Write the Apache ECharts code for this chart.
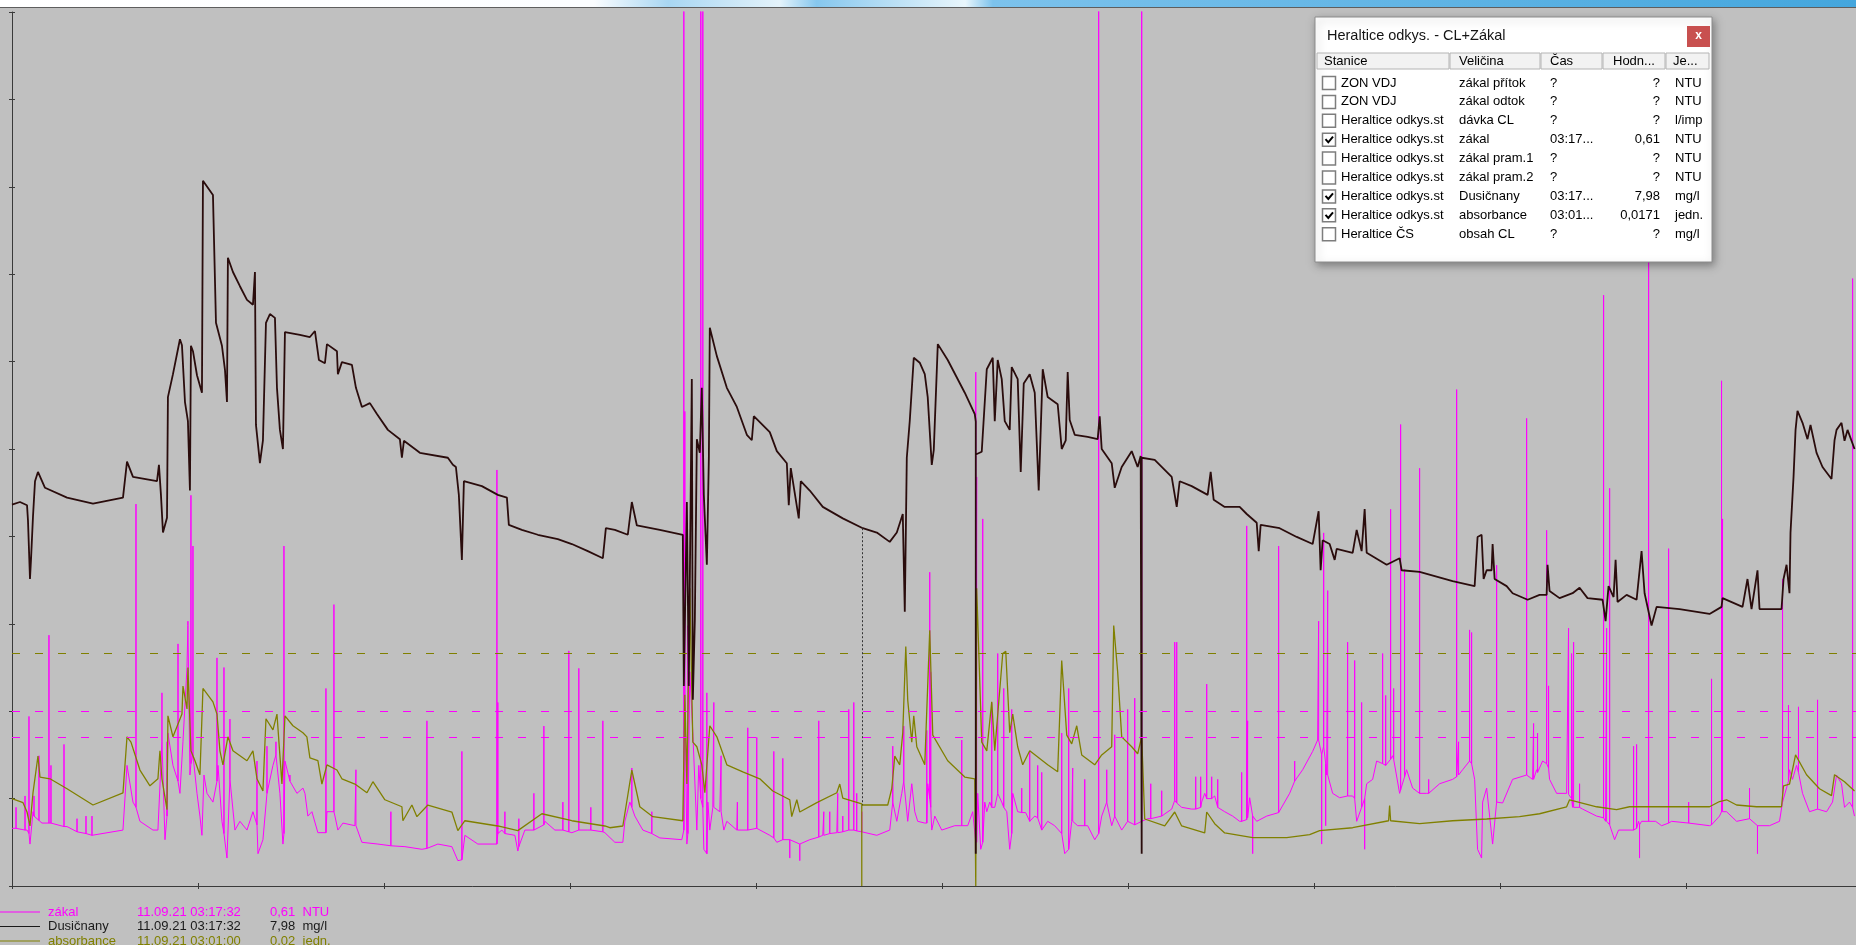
<!DOCTYPE html>
<html><head><meta charset="utf-8">
<script src="https://cdn.jsdelivr.net/npm/echarts/dist/echarts.min.js"></script>
<style>html,body{margin:0;padding:0;background:#c0c0c0;overflow:hidden}#c{width:1856px;height:945px}</style>
</head><body><div id="c"></div><script>
// time in hours from left edge, tick = 24 h
// zákal [NTU]: [h, value] or [h, base, spike]
const zakalData = [[0,0.66],[0.52,0.66,0.90],[1.68,0.64,1.03],[1.94,0.64],[2.19,0.6,1.94],[2.32,0.48],[2.71,0.85],[2.84,0.80,1.03],[3.48,0.75,1.49],[3.87,0.72],[4.77,0.72,2.87],[5.03,0.72,1.38],[6.71,0.68,1.62],[7.10,0.68],[8.39,0.62,0.77],[9.55,0.6,0.80],[10.32,0.58,0.80],[10.45,0.58],[14.32,0.64],[14.84,1.38],[15.61,0.96],[16.0,0.9,4.37],[16.51,0.74],[18.19,0.64],[18.83,0.64],[19.35,1.65,2.21],[19.74,0.53],[20.0,0.8,1.65],[20.12,1.75],[20.77,1.38],[21.42,1.2,2.77],[21.67,1.06],[22.06,1.65],[22.58,2.50],[22.70,2.98,3.03],[22.96,1.27],[23.09,1.4,4.47],[23.35,1.5,3.89],[23.87,1.06],[24.25,0.80],[24.51,0.58],[24.77,1.27],[25.16,1.06],[25.93,0.96],[26.45,1.2,2.61],[26.58,1.38],[27.09,0.74],[27.35,0.6,2.50],[27.74,0.32],[28.12,1.22,1.91],[28.77,0.64],[29.41,0.74],[30.32,0.64],[31.09,0.85],[31.61,0.7,1.43],[31.74,0.37],[32.38,0.53],[32.9,1.06,1.60],[33.67,1.38],[34.06,1.5,1.65],[34.57,1.06],[34.96,0.48],[35.09,0.6,3.89],[35.22,1.43],[35.86,1.2,1.27],[36.77,1.06],[37.54,1.12],[37.80,1.06],[38.18,0.80],
[38.7,0.85],[39.47,0.61],[40.51,0.61,2.26],[40.64,0.85],[41.54,0.85,3.22],[41.67,0.80],[42.05,0.64],[42.7,0.72],[44.25,0.69],[44.38,0.69,1.33],[45.15,0.50],[47.21,0.48],[48.89,0.46,0.85],[49.02,0.45],[50.70,0.45],[52.89,0.42],[53.54,0.43,1.89],[54.95,0.48],[56.76,0.45],[57.53,0.29],[58.05,0.30,1.54],[58.44,0.58],[60.11,0.48],[62.57,0.48,4.76],[62.69,0.6,2.10],[63.21,0.64],[63.6,0.6,0.85],[64.89,0.58],[65.27,0.40],[65.4,0.45,0.77],[66.18,0.64],[67.34,0.64,1.06],[68.63,0.70,1.83],[68.76,0.74],[70.05,0.64],[71.08,0.64,0.96],[71.85,0.62,2.69],[72.24,0.61],[73.14,0.64,2.49],[74.30,0.64],[74.69,0.64,0.90],[76.24,0.62,1.89],[76.50,0.61],
[77.79,0.50],[78.82,0.50],[79.08,0.74],[79.72,0.96],[79.98,0.9,1.35],[80.37,0.80],[81.40,0.64],[82.56,0.6,0.85],[83.59,0.55],[86.43,0.53],[86.69,0.64,12],[86.82,2.29,5.43],[87.08,0.48],[87.21,0.6,2.98],[87.46,2.45],[87.85,1.75],[88.37,0.64],[88.62,1.38],[88.88,1.0,12],[89.14,0.9,12],[89.27,0.42],[89.66,0.37,2.21],[89.79,0.96],[90.04,0.64],[90.43,0.90],[90.56,0.90,2.10],[91.33,0.85],[91.5,0.85,1.49],[91.85,0.64],[92.24,0.74],[93.53,0.64],[93.6,0.64,0.96],[94.94,0.64,1.81],[96.1,0.66,1.70],[97.78,0.58],[98.30,0.55,1.54],[98.69,0.50],[99.46,0.53,1.46],[100.36,0.53,0.32],[101.65,0.48,0.29],[102.94,0.53],[104.10,0.56,1.89],[104.62,0.58],[104.75,0.58,0.85],[105.52,0.6,0.85],[106.43,0.61],[106.55,0.61,1.06],[107.2,0.62,0.80],[107.97,0.64,2.02],[108.10,0.64],[108.62,0.64,2.10],[109.0,0.63,1.06],[109.65,0.62,0.85],[109.78,0.62],[111.59,0.58],[113.26,0.64],[113.65,0.96,1.60],[114.17,0.74],[114.81,1.06],[115.07,1.2,1.83],[115.58,0.74],[116.10,1.17],[116.49,0.85],
[116.87,0.74],[117.78,0.72],[118.04,0.72,1.78],[118.16,1.17],[118.42,1.0,3.59],[118.55,0.9,2.45],[118.68,0.64],[119.07,0.80],[119.97,0.64],[121.65,0.69],[122.55,0.69,1.67],[123.32,0.69],[123.97,0.85],[124.36,0.5,5.88],[124.48,0.5,4.68],[124.61,1.06],[125.0,0.42],[125.26,0.5,4.20],[125.52,0.96],[125.78,0.85],[126.16,0.96],[126.42,0.9,2.10],[126.81,0.90],[127.19,1.06,2.66],[127.71,0.96],[127.97,0.9,2.26],[128.36,0.85],[128.74,0.42],[129.0,0.6,2.02],[129.13,1.06],[129.77,0.85],[130.29,0.84,1.12],[130.8,0.84],[131.32,0.74,1.54],[131.97,0.80],[132.35,0.78,1.38],[132.87,0.64,1.30],[133.64,0.74],[134.54,0.69],[135.45,0.6,1.75],[135.84,0.37],[136.35,0.42,2.26],[136.74,0.74],[136.87,0.74,1.35],[137.51,0.69],[138.42,0.69,1.22],[138.80,0.69],[139.71,0.53],[140.22,0.6,12],[140.61,0.80],[141.26,0.96,1.33],[141.90,0.69],[142.29,0.8,1.73],[143.19,0.64],[143.96,0.74,2.02],[144.87,0.7,2.15],[145.77,0.74,12],[146.55,0.77],[146.94,0.77,1.17],[148.35,0.80,1.09],[149.64,0.88],[150.03,0.98,2.79],[150.29,0.95,2.79],[150.93,0.90],[152.22,0.88],[152.74,0.88,1.25],[153.38,0.9,1.25],[153.51,0.96],[153.90,1.06],[154.16,1.0,2.31],[154.8,1.0,1.25],[155.19,1.03],[155.58,0.9,1.22],[156.48,0.85],
[157.51,0.80],[158.41,0.74],[158.67,0.74,1.30],[159.32,0.76,4.12],[159.44,0.78,1.89],[159.70,1.01],[160.09,0.8,0.37],[160.61,0.74],[161.90,0.80],[163.44,0.84,3.89],[163.57,0.85],[164.86,1.06],[165.51,1.2,1.43],[166.54,1.33],[167.83,1.54],[168.47,1.67],[168.60,1.67,3.03],[168.99,1.5,0.48],[169.25,1.6,4.04],[169.51,1.4,0.69],[169.64,1.27],[169.77,1.27,3.38],[170.41,1.06],[171.31,1.01],[172.34,1.03,2.79],[172.99,1.03],[173.25,1.0,2.58],[173.51,0.74],[174.15,0.9,2.10],[174.54,1.0,0.42],[174.80,1.17],[175.57,1.22],[176.09,1.43],[176.86,1.40,2.66],[177.25,1.38,2.18],[177.38,1.38],[177.89,1.45,4.31],[178.15,1.49],[178.28,1.45,2.26],[179.05,1.06],[179.18,1.1,5.28],[179.69,1.25,3.62],[179.95,1.33],[180.73,1.12],[181.63,1.06,4.78],[182.54,1.06],[182.8,1.06,1.22],[184.21,1.17],[185.89,1.22],[186.41,1.25,5.68],[186.66,1.27,1.65],[187.18,1.33],[188.08,1.43,2.93],[188.34,1.4,2.90],[188.73,1.22],[189.11,0.42],[189.63,0.32],[189.76,0.96],[190.28,1.12],[191.05,0.48],[191.57,0.96,3.67],[192.34,0.95],[193.63,1.22],[195.44,1.27,5.35],[196.21,1.22],[196.34,1.22,1.86],[196.73,1.33],[196.85,1.3,1.75],
[197.50,1.43],[198.02,1.40,4.07],[198.27,1.35,2.29],[198.40,1.22],[199.31,1.06],[200.60,1.06],[200.85,1.05,2.95],[201.24,1.0,2.66],[201.37,0.90],[201.50,0.9,2.79],[202.27,0.9,1.17],[202.66,0.88],[204.47,0.80],[205.37,0.78,6.76],[205.63,0.74],[205.76,0.74,2.95],[206.15,0.7,4.55],[206.79,0.53],[207.30,0.64],[209.24,0.64,1.60],[209.63,0.66,1.62],[209.89,0.74],[210.01,0.7,0.32],[210.27,0.74],[211.18,0.74,7.14],[212.08,0.74],[212.86,0.69],[213.76,0.72,3.86],[214.15,0.74],[216.35,0.72,0.96],[219.04,0.69],[219.30,0.7,2.37],[220.33,0.80],[220.59,0.85,5.78],[220.72,0.85,4.20],[221.24,0.85],[222.53,0.74],[224.2,0.77,1.12],[225.23,0.69,0.37],[226.78,0.69],[228.07,0.74],[228.46,0.96,3.51],[229.23,1.2,2.07],[229.36,1.33],[229.75,1.22],[230.27,1.38],[230.52,1.3,2.05],[231.04,1.06],[231.94,0.85],[232.98,0.88,2.13],[233.23,0.90],[234.14,0.85],[234.91,0.96],[235.43,1.27],[236.07,1.17],[236.46,0.90],[237.10,0.96],[237.50,0.9,6.95],[237.75,0.80]];

// Dusičnany [mg/l]
const dusicnanyData = [[0,6.98],[1.03,7.03],[1.94,6.97],[2.06,6.70],[2.32,5.62],[2.45,5.97],[2.71,6.77],[2.97,7.41],[3.35,7.58],[4.26,7.29],[7.10,7.11],[10.45,7.00],[14.32,7.11],[14.84,7.77],[15.61,7.49],[18.71,7.41],[18.96,7.71],[19.22,7.16],[19.48,6.47],[20.0,6.74],[20.12,8.95],[20.77,9.37],[21.67,10.01],[21.93,9.90],[22.32,8.86],[22.7,8.51],[22.96,7.24],[23.09,9.89],[23.35,9.79],[23.87,9.35],[24.51,9.03],[24.64,12.91],[25.93,12.65],[26.32,10.31],[27.09,9.89],[27.48,9.45],[27.74,8.86],[27.86,11.50],[28.51,11.24],[29.41,10.98],[30.32,10.73],[31.09,10.64],[31.35,11.24],[31.48,8.44],[31.99,7.74],[32.38,8.16],[32.77,10.31],[33.28,10.47],[33.93,10.40],[34.19,9.12],[34.57,8.35],[34.96,8.0],[35.22,10.14],[37.15,10.09],[38.44,10.05],
[39.09,10.16],[39.60,9.63],[40.38,9.57],[40.64,9.92],[41.93,9.79],[42.05,9.37],[42.57,9.59],[43.86,9.54],[44.38,9.12],[45.15,8.77],[46.18,8.84],[47.09,8.64],[48.50,8.35],[50.05,8.18],[50.31,7.84],[50.57,8.15],[51.99,8.0],[52.63,7.93],[56.24,7.84],[56.89,7.71],[57.28,7.67],[57.66,7.16],[58.05,5.97],[58.31,7.41],[60.63,7.32],[62.69,7.16],[63.86,7.11],[64.11,6.61],[65.79,6.52],[67.85,6.43],[70.43,6.35],[72.24,6.26],[74.30,6.13],[76.24,6.00],[76.63,6.55],[77.79,6.52],
[79.46,6.43],[79.98,7.03],[80.63,6.60],[83.59,6.52],[86.56,6.43],[86.69,3.66],[87.08,7.03],[87.33,3.66],[87.72,9.28],[87.85,3.41],[88.11,4.87],[88.37,8.18],[88.75,7.93],[89.01,9.12],[89.27,7.16],[89.66,5.88],[89.92,7.84],[90.04,10.22],[90.95,9.70],[92.24,9.12],[93.53,8.77],[94.82,8.26],[95.46,8.16],[95.72,8.60],[97.78,8.31],[98.69,7.96],[99.98,7.74],[100.23,6.97],[100.49,7.65],[101.52,6.73],[101.78,7.41],[102.94,7.24],[104.62,6.94],[107.20,6.73],[109.78,6.55],[111.59,6.47],[113.26,6.30],[114.17,6.47],[114.94,6.81],[115.20,5.02],[115.46,7.84],[115.84,8.51],[116.36,9.67],[117.13,9.58],
[117.78,9.37],[118.16,8.95],[118.68,7.71],[118.94,7.98],[119.46,9.92],[120.74,9.63],[122.94,9.03],[124.23,8.64],[124.36,8.5],[124.36,0.59],[124.36,7.9],[124.61,7.87],[125.13,7.95],[125.78,9.46],[126.55,9.67],[126.81,8.51],[127.19,9.63],[127.71,9.28],[128.10,8.51],[128.74,8.35],[129.0,9.50],[129.77,9.28],[130.16,7.58],[130.55,9.20],[131.32,9.37],[131.97,9.03],[132.48,7.24],[133.0,9.46],[133.64,8.95],[134.93,8.82],[135.45,8.0],[135.97,8.16],[136.22,9.41],[136.48,8.53],[137.13,8.26],[138.80,8.22],[140.09,8.18],[140.35,8.60],[140.61,8.0],[141.90,7.74],[142.29,7.29],[143.19,7.67],[144.48,7.96],[145.25,7.67],[145.64,7.87],[145.77,7.85],[145.77,0.59],[145.77,7.84],[147.45,7.80],[149.64,7.49],[150.29,6.94],[150.67,7.41],[152.22,7.32],[154.28,7.16],[154.67,7.58],[155.06,7.07],[156.48,6.94],
[158.41,6.94],[159.32,6.81],[160.61,6.65],[160.87,6.13],[161.12,6.61],[163.57,6.55],[165.77,6.39],[167.83,6.26],[168.60,6.86],[168.86,5.78],[169.12,6.33],[170.02,6.26],[170.67,5.97],[170.93,6.17],[172.99,6.10],[173.51,6.52],[174.15,6.13],[174.54,6.90],[174.80,6.10],[177.38,5.88],[179.05,6.00],[179.31,5.78],[181.63,5.75],[185.89,5.58],[188.73,5.49],[189.11,6.39],[189.63,6.43],[189.89,5.62],[190.28,5.78],[190.92,5.78],[191.05,6.26],[191.31,5.62],[192.86,5.49],[193.63,5.36],[195.57,5.24],[197.11,5.33],
[198.02,5.33],[198.14,5.88],[198.40,5.40],[199.69,5.27],[201.37,5.36],[202.27,5.46],[203.30,5.27],[205.24,5.24],[205.63,4.85],[206.01,5.49],[206.66,5.29],[206.92,5.97],[207.17,5.20],[208.34,5.33],[209.63,5.24],[210.27,6.13],[210.66,5.36],[211.56,4.77],[212.21,5.11],[215.17,5.07],[219.04,4.98],[220.59,5.11],[220.72,5.27],[223.30,5.11],[223.94,5.62],[224.46,5.07],[225.23,5.78],[225.49,5.07],[228.33,5.07],[228.59,5.62],[228.98,5.88],[229.36,5.36],[229.49,6.47],[229.88,7.49],[230.14,8.35],[230.39,8.70],[231.04,8.48],[231.68,8.18],[232.07,8.44],[232.85,7.93],[233.62,7.67],[234.78,7.45],[235.17,8.16],[235.43,8.35],[236.07,8.48],[236.46,8.15],[236.85,8.35],[237.75,8.0]];

// absorbance [jedn.]
const absorbanceData = [[0,0.0150],[1.42,0.0143],[1.94,0.0127],[2.32,0.0103],[2.71,0.0160],[3.35,0.0223],[3.61,0.0187],[4.90,0.0184],[7.10,0.0167],[10.45,0.0139],[14.32,0.0160],[14.84,0.0256],[15.35,0.0247],[16.51,0.0199],[17.80,0.0172],[18.83,0.0184],[19.09,0.0232],[19.35,0.0184],[20.0,0.0131],[20.12,0.0292],[20.77,0.0256],[21.93,0.0295],[22.06,0.0343],[22.58,0.0304],[22.70,0.0375],[23.09,0.0232],[23.61,0.0215],[24.25,0.0191],[24.64,0.0339],[25.93,0.0316],[26.45,0.0295],[26.83,0.0232],[27.22,0.0208],[27.86,0.0256],[28.51,0.0232],[30.32,0.0215],[31.09,0.0232],[31.61,0.0184],[32.38,0.0163],[32.77,0.0287],[33.67,0.0268],[34.19,0.0295],[34.83,0.0175],[35.22,0.0292],[36.25,0.0275],[37.54,0.0263],[38.05,0.0256],[38.44,0.0220],[39.47,0.0215],[39.99,0.0175],[40.64,0.0208],[41.93,0.0199],[42.57,0.0184],[44.25,0.0175],[45.80,0.0160],[46.57,0.0179],[48.12,0.0148],[50.31,0.0136],[50.44,0.0112],[51.6,0.0139],[52.25,0.0119],[53.66,0.0139],[56.76,0.0127],[57.53,0.0095],[58.44,0.0112],[62.69,0.0103],[65.27,0.0095],[68.37,0.0124],[72.24,0.0112],[76.50,0.0103],[77.14,0.0100],[78.82,0.0103],[79.98,0.0199],[81.01,0.0136],[82.69,0.0119],[86.56,0.0112],[86.82,0.0328],[87.08,0.0175],[87.46,0.0511],[87.85,0.0247],[88.37,0.0239],[89.01,0.0208],[89.40,0.0160],[90.04,0.0275],[90.95,0.0256],[92.24,0.0208],[94.30,0.0196],[96.49,0.0184],[98.17,0.0163],[100.36,0.0148],[100.61,0.0119],[101.27,0.0148],[101.65,0.0127],[103.85,0.0143],[106.43,0.0160],[106.81,0.0175],[107.20,0.0151],[109.65,0.0141],[109.65,0],[109.65,0.0139],[111.59,0.0139],[113.0,0.0139],[113.52,0.0167],[113.91,0.0223],[114.55,0.0208],[114.94,0.0263],[115.33,0.0411],[115.58,0.0319],[116.1,0.0247],[116.36,0.0292],[116.75,0.0239],[117.78,0.0208],[118.42,0.0439],[118.81,0.0259],[120.74,0.0215],[122.94,0.0187],[124.23,0.0184],[124.36,0],[124.48,0.0511],[125.13,0.0247],[125.78,0.0232],[126.42,0.0316],[126.81,0.0232],[127.84,0.0399],[128.23,0.0403],[128.74,0.0263],[129.13,0.0295],[129.77,0.0239],[130.42,0.0208],[131.32,0.0232],[133.64,0.0208],[134.93,0.0196],[135.45,0.0387],[136.10,0.0259],[136.74,0.0244],[137.39,0.0275],[138.03,0.0225],[139.71,0.0208],[140.61,0.0225],[141.90,0.0239],[142.16,0.0447],[142.67,0.0367],[143.19,0.0256],[144.48,0.0239],[145.25,0.0227],[145.77,0.0256],[146.16,0.0115],[148.74,0.0103],[150.03,0.0127],[150.93,0.0103],[153.90,0.0091],[154.16,0.0127],[155.19,0.0107],[156.48,0.0091],[160.09,0.0083],[164.48,0.0083],[167.44,0.0088],[168.73,0.0095],[172.99,0.0100],[177.63,0.0112],[177.76,0.0138],[177.89,0.0112],[181.63,0.0107],[185.89,0.0112],[190.28,0.0115],[194.53,0.0119],[197.11,0.0124],[200.60,0.0136],[200.98,0.0148],[204.47,0.0136],[207.05,0.0131],[208.72,0.0136],[219.04,0.0136],[220.33,0.0145],[221.24,0.0148],[222.53,0.0139],[225.11,0.0136],[228.33,0.0136],[228.59,0.0172],[229.36,0.0175],[230.14,0.0225],[231.56,0.0191],[233.23,0.0167],[234.78,0.0155],[235.17,0.0191],[236.46,0.0179],[237.75,0.0163]];

const zakalLimits = [2.0, 1.7];
const absorbanceLimit = [0.04];
const cursorLine = [[109.65, 6.55], [109.65, 1.48]];

// bottom legend
const legendNames = ['zákal', 'Dusičnany', 'absorbance'];
const legendTimes = ['11.09.21 03:17:32', '11.09.21 03:17:32', '11.09.21 03:01:00'];
const legendValues = ['0,61  NTU', '7,98  mg/l', '0,02  jedn.'];
const legendColors = ['#ff00ff', '#1a1a1a', '#808000'];

// window table
const winTitle = 'Heraltice odkys. - CL+Zákal';
const winHeaders = ['Stanice', 'Veličina', 'Čas', 'Hodn...', 'Je...'];
const winStanice = ['ZON VDJ','ZON VDJ','Heraltice odkys.st','Heraltice odkys.st','Heraltice odkys.st','Heraltice odkys.st','Heraltice odkys.st','Heraltice odkys.st','Heraltice ČS'];
const winVelicina = ['zákal přítok','zákal odtok','dávka CL','zákal','zákal pram.1','zákal pram.2','Dusičnany','absorbance','obsah CL'];
const winCas = ['?','?','?','03:17...','?','?','03:17...','03:01...','?'];
const winHodnota = ['?','?','?','0,61','?','?','7,98','0,0171','?'];
const winJednotka = ['NTU','NTU','l/imp','NTU','NTU','NTU','mg/l','jedn.','mg/l'];
const winChecked = [false,false,false,true,false,false,true,true,false];

function expand(arr){
  const out=[];
  arr.forEach(p=>{ if(p.length===3){ out.push([p[0],p[1]],[p[0],p[2]],[p[0],p[1]]); } else out.push(p); });
  return out;
}

const FONT = '"Liberation Sans", Arial, sans-serif';
function txt(x,y,text,size,color,align,weight){
  return {type:'text', x:x, y:y, z:100, silent:true,
    style:{text:text, font:(weight?weight+' ':'')+size+'px '+FONT, fill:color, textAlign:align||'left', align:align||'left', textVerticalAlign:'middle', verticalAlign:'middle'}};
}

const G = [];
// top strip
G.push({type:'rect', z:90, shape:{x:0,y:0,width:1856,height:7}, style:{fill:{type:'linear',x:0,y:0,x2:1,y2:0,colorStops:[
  {offset:0,color:'#ffffff'},{offset:0.32,color:'#fbfdff'},{offset:0.36,color:'#a8d6f2'},{offset:0.42,color:'#e4f3fb'},{offset:0.44,color:'#86c7ee'},{offset:0.52,color:'#e9f6fc'},{offset:0.535,color:'#7cc2ec'},{offset:1,color:'#44a6dd'}]}}});
G.push({type:'rect', z:90, shape:{x:0,y:7,width:1856,height:1}, style:{fill:'#5e5e5e'}});

// bottom legend
const legY = [912, 926.5, 941];
legendNames.forEach((n,i)=>{
  G.push({type:'line', z:100, shape:{x1:0,y1:legY[i],x2:40,y2:legY[i]}, style:{stroke:legendColors[i], lineWidth:1}});
  G.push(txt(48, legY[i], n, 13, legendColors[i]));
  G.push(txt(137, legY[i], legendTimes[i], 13, legendColors[i]));
  G.push(txt(270, legY[i], legendValues[i], 13, legendColors[i]));
});

// window
const WX=1315, WY=17, WW=397, WH=245;
G.push({type:'rect', z:99, shape:{x:WX,y:WY,width:WW,height:WH}, style:{fill:'#ffffff', stroke:'#8c8c8c', lineWidth:1, shadowBlur:8, shadowColor:'rgba(0,0,0,0.35)', shadowOffsetX:2, shadowOffsetY:3}});
G.push(txt(1327, 36, winTitle, 14.5, '#141414'));
G.push({type:'rect', z:100, shape:{x:1687,y:26,width:23,height:21}, style:{fill:'#c8504f'}});
G.push(txt(1698.5, 36, 'x', 12, '#ffffff', 'center', 'bold'));
const colEdges = [1317, 1450, 1541, 1603, 1666, 1710];
const headX = [1324, 1459, 1550, 1613, 1673];
for (let c=0;c<5;c++){
  G.push({type:'rect', z:100, shape:{x:colEdges[c], y:53, width:colEdges[c+1]-colEdges[c]-1, height:16}, style:{fill:'#f2f2f2', stroke:'#b4b4b4', lineWidth:1}});
  G.push(txt(headX[c], 61.5, winHeaders[c], 13, '#000'));
}
winStanice.forEach((s,i)=>{
  const y = 83 + i*18.9;
  G.push({type:'rect', z:100, shape:{x:1322.5, y:y-6.5, width:13, height:13}, style:{fill:'#ffffff', stroke:'#7d7d7d', lineWidth:1.5}});
  if (winChecked[i]) G.push({type:'polyline', z:101, shape:{points:[[1325.5,y-0.5],[1328.3,y+2.6],[1333,y-3]]}, style:{stroke:'#000', lineWidth:2, fill:null}});
  G.push(txt(1341, y, s, 13, '#000'));
  G.push(txt(1459, y, winVelicina[i], 13, '#000'));
  G.push(txt(1550, y, winCas[i], 13, '#000'));
  G.push(txt(1660, y, winHodnota[i], 13, '#000', 'right'));
  G.push(txt(1675, y, winJednotka[i], 13, '#000'));
});

const axisCol = '#3a3a3a';
const dash = [8,15];
const option = {
  animation:false,
  backgroundColor:'#c0c0c0',
  grid:{left:12, right:0, top:12, bottom:59, containLabel:false},
  xAxis:[
    {type:'value', min:0, max:237.94, interval:24, position:'bottom',
     axisLine:{show:true, onZero:false, lineStyle:{color:axisCol, width:1}},
     axisTick:{show:true, length:3, inside:false, lineStyle:{color:axisCol}},
     axisLabel:{show:false}, splitLine:{show:false}},
    {type:'value', min:0, max:237.94, interval:24, position:'bottom',
     axisLine:{show:false}, axisTick:{show:true, length:3, inside:true, lineStyle:{color:axisCol}},
     axisLabel:{show:false}, splitLine:{show:false}}
  ],
  yAxis:[
    {type:'value', min:0, max:10, interval:1, position:'left',
     axisLine:{show:true, onZero:false, lineStyle:{color:axisCol, width:1}},
     axisTick:{show:true, length:3, inside:false, lineStyle:{color:axisCol}},
     axisLabel:{show:false}, splitLine:{show:false}},
    {type:'value', min:0, max:16, show:false, splitLine:{show:false}},
    {type:'value', min:0, max:0.15, show:false, splitLine:{show:false}},
    {type:'value', min:0, max:10, interval:1, position:'left',
     axisLine:{show:false}, axisTick:{show:true, length:3, inside:true, lineStyle:{color:axisCol}},
     axisLabel:{show:false}, splitLine:{show:false}}
  ],
  series:[
    {name:'zákal', type:'line', xAxisIndex:0, yAxisIndex:0, data:expand(zakalData), symbol:'none',
     lineStyle:{color:'#ff00ff', width:1}, itemStyle:{color:'#ff00ff'}, z:2,
     markLine:{silent:true, symbol:['none','none'], label:{show:false}, lineStyle:{color:'#ff00ff', type:dash, width:1},
       data: zakalLimits.map(v=>({yAxis:v}))}},
    {name:'absorbance', type:'line', xAxisIndex:0, yAxisIndex:2, data:absorbanceData, symbol:'none',
     lineStyle:{color:'#808000', width:1.3}, itemStyle:{color:'#808000'}, z:3,
     markLine:{silent:true, symbol:['none','none'], label:{show:false}, lineStyle:{color:'#808000', type:dash, width:1},
       data: absorbanceLimit.map(v=>({yAxis:v}))}},
    {name:'Dusičnany', type:'line', xAxisIndex:0, yAxisIndex:1, data:dusicnanyData, symbol:'none',
     lineStyle:{color:'#2a0c0c', width:1.8}, itemStyle:{color:'#2a0c0c'}, z:4,
     markLine:{silent:true, symbol:['none','none'], label:{show:false}, lineStyle:{color:'#333', type:[2,2], width:1},
       data:[[{coord:cursorLine[0]},{coord:cursorLine[1]}]]}}
  ],
  graphic:{elements:G}
};
const chart = echarts.init(document.getElementById('c'), null, {renderer:'canvas'});
chart.setOption(option);
</script></body></html>
